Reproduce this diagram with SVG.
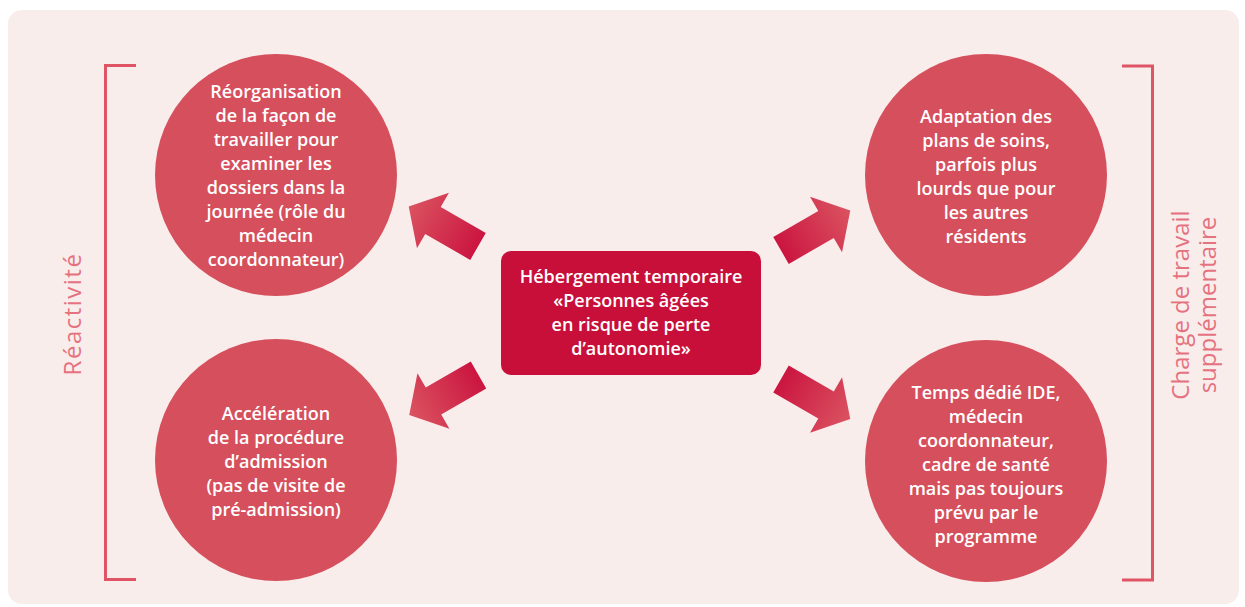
<svg xmlns="http://www.w3.org/2000/svg" width="1245" height="607" viewBox="0 0 1245 607">
<defs>
<style>
.bg{fill:#f9edec}
.circ{fill:#d64f5c}
.box{fill:#c80f3a}
.br{fill:none;stroke:#e05566;stroke-width:3}
.t{font-family:"Open Sans","Noto Sans","Liberation Sans",sans-serif;font-weight:600;font-size:18px;fill:#ffffff;text-anchor:middle}
.lab{font-family:"Open Sans","Noto Sans","Liberation Sans",sans-serif;font-weight:400;font-size:24px;fill:#e5727f;text-anchor:middle}
.arr{fill:url(#ag)}
</style>
<linearGradient id="ag" gradientUnits="userSpaceOnUse" x1="0" y1="0" x2="80" y2="0">
<stop offset="0" stop-color="#cb1540"/>
<stop offset="1" stop-color="#da5360"/>
</linearGradient>
<path id="arrow" d="M0,-15.5 L52,-15.5 L52,-32 L80,0 L52,32 L52,15.5 L0,15.5 Z"/>
</defs>
<rect class="bg" x="8" y="10" width="1231" height="594" rx="14"/>
<g id="bracket-left"><path class="br" d="M136,65.5 H105.5 V579.5 H136"/></g>
<g id="bracket-right"><path class="br" d="M1122,66 H1152.5 V580 H1122"/></g>
<g id="label-left"><text class="lab" letter-spacing="1.5" transform="translate(81,314) rotate(-90)">Réactivité</text></g>
<g id="label-right"><text class="lab" transform="translate(1189,305) rotate(-90)">Charge de travail</text><text class="lab" transform="translate(1216,305) rotate(-90)">supplémentaire</text></g>
<g id="connectors">
<use href="#arrow" class="arr" transform="translate(478,246.5) rotate(210)"/>
<use href="#arrow" class="arr" transform="translate(781,250.5) rotate(-30)"/>
<use href="#arrow" class="arr" transform="translate(478.5,375) rotate(150)"/>
<use href="#arrow" class="arr" transform="translate(781,379) rotate(30)"/>
</g>
<g id="center">
<rect class="box" x="501" y="251" width="260" height="124" rx="10"/>
<text class="t"><tspan x="631" y="283">Hébergement temporaire</tspan><tspan x="631" y="307">«Personnes âgées</tspan><tspan x="631" y="331">en risque de perte</tspan><tspan x="631" y="355">d’autonomie»</tspan></text>
</g>
<g id="node-tl">
<circle class="circ" cx="276" cy="175" r="121"/>
<text class="t"><tspan x="276" y="98">Réorganisation</tspan><tspan x="276" y="122">de la façon de</tspan><tspan x="276" y="146">travailler pour</tspan><tspan x="276" y="170">examiner les</tspan><tspan x="276" y="194">dossiers dans la</tspan><tspan x="276" y="218">journée (rôle du</tspan><tspan x="276" y="242">médecin</tspan><tspan x="276" y="266">coordonnateur)</tspan></text>
</g>
<g id="node-bl">
<circle class="circ" cx="276" cy="460" r="121"/>
<text class="t"><tspan x="276" y="420">Accélération</tspan><tspan x="276" y="444">de la procédure</tspan><tspan x="276" y="468">d’admission</tspan><tspan x="276" y="492">(pas de visite de</tspan><tspan x="276" y="516">pré-admission)</tspan></text>
</g>
<g id="node-tr">
<circle class="circ" cx="986" cy="175" r="121"/>
<text class="t"><tspan x="986" y="123">Adaptation des</tspan><tspan x="986" y="147">plans de soins,</tspan><tspan x="986" y="171">parfois plus</tspan><tspan x="986" y="195">lourds que pour</tspan><tspan x="986" y="219">les autres</tspan><tspan x="986" y="243">résidents</tspan></text>
</g>
<g id="node-br">
<circle class="circ" cx="986" cy="461" r="121"/>
<text class="t"><tspan x="986" y="399">Temps dédié IDE,</tspan><tspan x="986" y="423">médecin</tspan><tspan x="986" y="447">coordonnateur,</tspan><tspan x="986" y="471">cadre de santé</tspan><tspan x="986" y="495">mais pas toujours</tspan><tspan x="986" y="519">prévu par le</tspan><tspan x="986" y="543">programme</tspan></text>
</g>
</svg>
